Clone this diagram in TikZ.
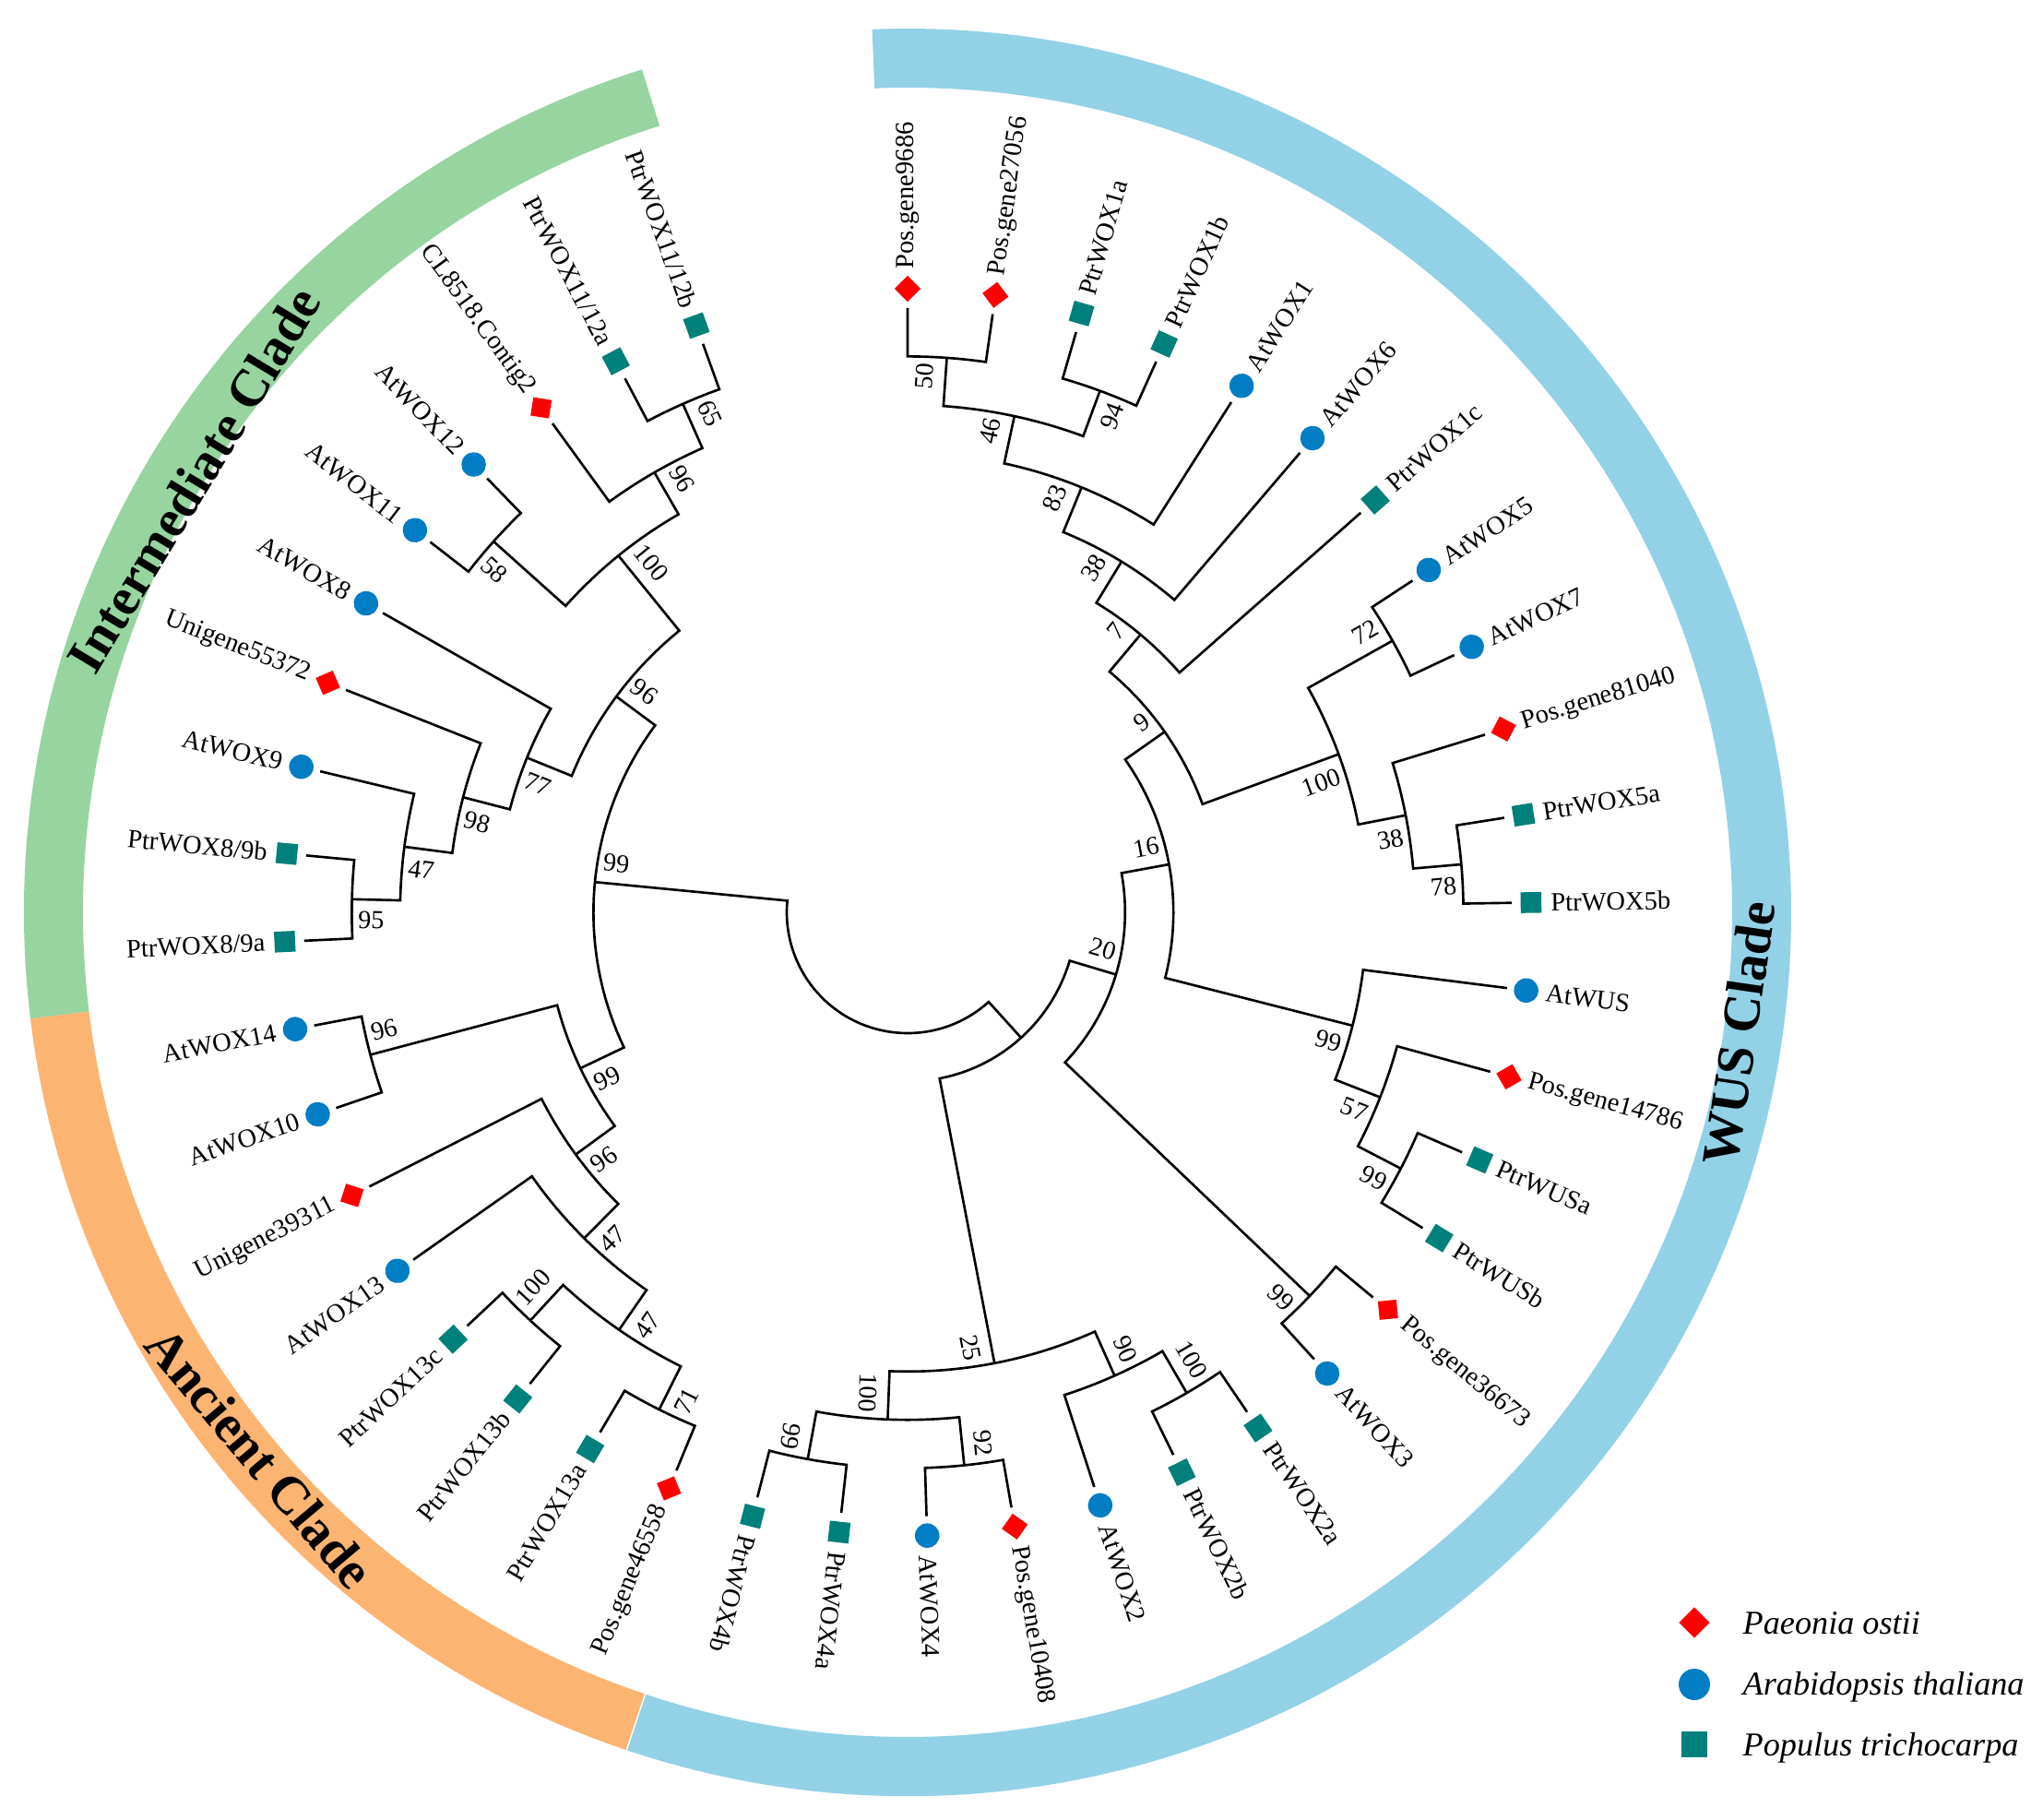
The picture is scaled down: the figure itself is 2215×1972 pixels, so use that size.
\documentclass[tikz,border=0pt]{standalone}
\usepackage{fontspec}
\setmainfont{Liberation Serif}
\usepackage{tikz}
\usetikzlibrary{shapes.geometric}

\definecolor{wusblue}{RGB}{147,209,231}
\definecolor{midgreen}{RGB}{151,212,160}
\definecolor{ancorange}{RGB}{252,180,115}
\definecolor{poared}{RGB}{255,0,0}
\definecolor{arablue}{RGB}{0,125,195}
\definecolor{popteal}{RGB}{0,128,122}

% leaf: name, position, label, species style
\newcommand{\leaf}[4]{%
  \pgfmathsetmacro\angA{90-8.1*#2}%
  \expandafter\xdef\csname ang#1\endcsname{\angA}%
  \coordinate (#1) at (\angA:655);
  \node [#4,rotate=\angA] (#1m) at (\angA:676) {};
  \ifnum#2>24
    \node [lab,rotate=\angA+180,anchor=east] (#1t) at (\angA:695) {#3};
  \else
    \node [lab,rotate=\angA,anchor=west] (#1t) at (\angA:695) {#3};
  \fi}

% clade: name, upper child, lower child, level, bootstrap, side (u/d)
\newcommand{\clade}[6]{%
  \edef\angA{\csname ang#2\endcsname}%
  \edef\angB{\csname ang#3\endcsname}%
  \pgfmathsetmacro\angM{(\angA+\angB)/2}%
  \pgfmathsetmacro\radC{655-52.4*#4}%
  \pgfmathsetmacro\radL{\radC-3}%
  \expandafter\xdef\csname ang#1\endcsname{\angM}%
  \coordinate (#1) at (\angM:\radC);
  \draw [branch] (#2) -- (\angA:\radC) arc [start angle=\angA,end angle=\angB,radius=\radC] -- (#3);
  \ifdim\angM pt<-108pt
    \pgfmathsetmacro\rotL{\angM+180}%
    \if#6u\def\ancL{north west}\else\def\ancL{south west}\fi
  \else
    \let\rotL\angM
    \if#6u\def\ancL{south east}\else\def\ancL{north east}\fi
  \fi
  \node [boot,rotate=\rotL,anchor=\ancL] (#1b) at (\angM:\radL) {#5};}

\begin{document}
\begin{tikzpicture}[x=0.01cm,y=0.01cm,
  branch/.style={draw=black,line width=0.75pt},
  lab/.style={inner sep=0.5pt,font=\fontsize{8.1}{9.7}\selectfont},
  boot/.style={inner xsep=1pt,inner ysep=3.5pt,font=\fontsize{8}{9.6}\selectfont},
  cladelab/.style={font=\fontsize{16.3}{19}\selectfont\bfseries},
  leg/.style={inner sep=0pt,font=\fontsize{10.3}{12}\selectfont\itshape}]
      \tikzstyle{paeo}=[diamond,fill=poared,inner sep=0pt,minimum width=0.29cm,minimum height=0.29cm]
      \tikzstyle{arab}=[circle,fill=arablue,inner sep=0pt,minimum size=0.265cm]
      \tikzstyle{popu}=[rectangle,fill=popteal,inner sep=0pt,minimum size=0.225cm]

  \useasboundingbox (-984,-983) rectangle (1231,989);

  % clade rings
  \fill[wusblue] (92.3:894) arc [start angle=92.3,end angle=-108.5,radius=894]
     -- (-108.5:958) arc [start angle=-108.5,end angle=92.3,radius=958] -- cycle;
  \fill[ancorange] (-108.6:894) arc [start angle=-108.6,end angle=-173.1,radius=894]
     -- (-173.1:958) arc [start angle=-173.1,end angle=-108.6,radius=958] -- cycle;
  \fill[midgreen] (-173.1:894) arc [start angle=-173.1,end angle=-252.5,radius=894]
     -- (-252.5:958) arc [start angle=-252.5,end angle=-173.1,radius=958] -- cycle;

  \node [cladelab,rotate=58.8] (intc) at (148.8:905) {Intermediate Clade};
  \node [cladelab,rotate=81.7] (wusc) at (-8.3:911) {WUS Clade};
  \node [cladelab,rotate=-49.9] (ancc) at (220.1:918) {Ancient Clade};

  % leaves
  \leaf{pg9686}{0}{Pos.gene9686}{paeo}
  \leaf{pg27056}{1}{Pos.gene27056}{paeo}
  \leaf{p1a}{2}{PtrWOX1a}{popu}
  \leaf{p1b}{3}{PtrWOX1b}{popu}
  \leaf{a1}{4}{AtWOX1}{arab}
  \leaf{a6}{5}{AtWOX6}{arab}
  \leaf{p1c}{6}{PtrWOX1c}{popu}
  \leaf{a5}{7}{AtWOX5}{arab}
  \leaf{a7}{8}{AtWOX7}{arab}
  \leaf{pg81040}{9}{Pos.gene81040}{paeo}
  \leaf{p5a}{10}{PtrWOX5a}{popu}
  \leaf{p5b}{11}{PtrWOX5b}{popu}
  \leaf{aWUS}{12}{AtWUS}{arab}
  \leaf{pg14786}{13}{Pos.gene14786}{paeo}
  \leaf{pWUSa}{14}{PtrWUSa}{popu}
  \leaf{pWUSb}{15}{PtrWUSb}{popu}
  \leaf{pg36673}{16}{Pos.gene36673}{paeo}
  \leaf{a3}{17}{AtWOX3}{arab}
  \leaf{p2a}{18}{PtrWOX2a}{popu}
  \leaf{p2b}{19}{PtrWOX2b}{popu}
  \leaf{a2}{20}{AtWOX2}{arab}
  \leaf{pg10408}{21}{Pos.gene10408}{paeo}
  \leaf{a4}{22}{AtWOX4}{arab}
  \leaf{p4a}{23}{PtrWOX4a}{popu}
  \leaf{p4b}{24}{PtrWOX4b}{popu}
  \leaf{pg46558}{25}{Pos.gene46558}{paeo}
  \leaf{p13a}{26}{PtrWOX13a}{popu}
  \leaf{p13b}{27}{PtrWOX13b}{popu}
  \leaf{p13c}{28}{PtrWOX13c}{popu}
  \leaf{a13}{29}{AtWOX13}{arab}
  \leaf{u39311}{30}{Unigene39311}{paeo}
  \leaf{a10}{31}{AtWOX10}{arab}
  \leaf{a14}{32}{AtWOX14}{arab}
  \leaf{p89a}{33}{PtrWOX8/9a}{popu}
  \leaf{p89b}{34}{PtrWOX8/9b}{popu}
  \leaf{a9}{35}{AtWOX9}{arab}
  \leaf{u55372}{36}{Unigene55372}{paeo}
  \leaf{a8}{37}{AtWOX8}{arab}
  \leaf{a11}{38}{AtWOX11}{arab}
  \leaf{a12}{39}{AtWOX12}{arab}
  \leaf{cl8518}{40}{CL8518.Contig2}{paeo}
  \leaf{p1112a}{41}{PtrWOX11/12a}{popu}
  \leaf{p1112b}{42}{PtrWOX11/12b}{popu}

  % WUS clade
  \clade{n50}{pg9686}{pg27056}{1}{50}{u}
  \clade{n94}{p1a}{p1b}{1}{94}{d}
  \clade{n46}{n50}{n94}{2}{46}{u}
  \clade{n83}{n46}{a1}{3}{83}{u}
  \clade{n38a}{n83}{a6}{4}{38}{u}
  \clade{n7}{n38a}{p1c}{5}{7}{u}
  \clade{n72}{a5}{a7}{1}{72}{u}
  \clade{n78}{p5a}{p5b}{1}{78}{d}
  \clade{n38b}{pg81040}{n78}{2}{38}{d}
  \clade{n100a}{n72}{n38b}{3}{100}{d}
  \clade{n9}{n7}{n100a}{6}{9}{u}
  \clade{n99a}{pWUSa}{pWUSb}{1}{99}{d}
  \clade{n57}{pg14786}{n99a}{2}{57}{d}
  \clade{n99b}{aWUS}{n57}{3}{99}{d}
  \clade{n16}{n9}{n99b}{7}{16}{u}
  \clade{n99c}{pg36673}{a3}{1}{99}{d}
  \clade{n20}{n16}{n99c}{8}{20}{u}
  \clade{n100b}{p2a}{p2b}{1}{100}{u}
  \clade{n90}{n100b}{a2}{2}{90}{u}
  \clade{n92}{pg10408}{a4}{1}{92}{u}
  \clade{n99d}{p4a}{p4b}{1}{99}{d}
  \clade{n100c}{n92}{n99d}{2}{100}{d}
  \clade{n25}{n90}{n100c}{3}{25}{d}
  \clade{nR}{n20}{n25}{9}{}{u}

  % ancient clade
  \clade{n71}{pg46558}{p13a}{1}{71}{u}
  \clade{n100d}{p13b}{p13c}{1}{100}{d}
  \clade{n47b}{n71}{n100d}{2}{47}{u}
  \clade{n47c}{n47b}{a13}{3}{47}{u}
  \clade{n96a}{n47c}{u39311}{4}{96}{u}
  \clade{n96b}{a10}{a14}{1}{96}{d}
  \clade{n99e}{n96a}{n96b}{5}{99}{u}

  % intermediate clade
  \clade{n95}{p89a}{p89b}{1}{95}{u}
  \clade{n47d}{n95}{a9}{2}{47}{u}
  \clade{n98}{n47d}{u55372}{3}{98}{u}
  \clade{n77}{n98}{a8}{4}{77}{u}
  \clade{n58}{a11}{a12}{1}{58}{u}
  \clade{n65}{p1112a}{p1112b}{1}{65}{d}
  \clade{n96c}{cl8518}{n65}{2}{96}{d}
  \clade{n100e}{n58}{n96c}{3}{100}{d}
  \clade{n96d}{n77}{n100e}{5}{96}{d}
  \clade{n99f}{n99e}{n96d}{6}{99}{d}

  \clade{root}{nR}{n99f}{10}{}{u}

  % legend
  \node [paeo,minimum width=0.34cm,minimum height=0.34cm] (lgpo) at (853,-770) {};
  \node [leg,anchor=base west] (lgpot) at (905,-782) {Paeonia ostii};
  \node [arab,minimum size=0.34cm] (lgat) at (853,-837) {};
  \node [leg,anchor=base west] (lgatt) at (905,-848) {Arabidopsis thaliana};
  \node [popu,minimum size=0.28cm] (lgpt) at (853,-902) {};
  \node [leg,anchor=base west] (lgptt) at (905,-914) {Populus trichocarpa};

\end{tikzpicture}
\end{document}
